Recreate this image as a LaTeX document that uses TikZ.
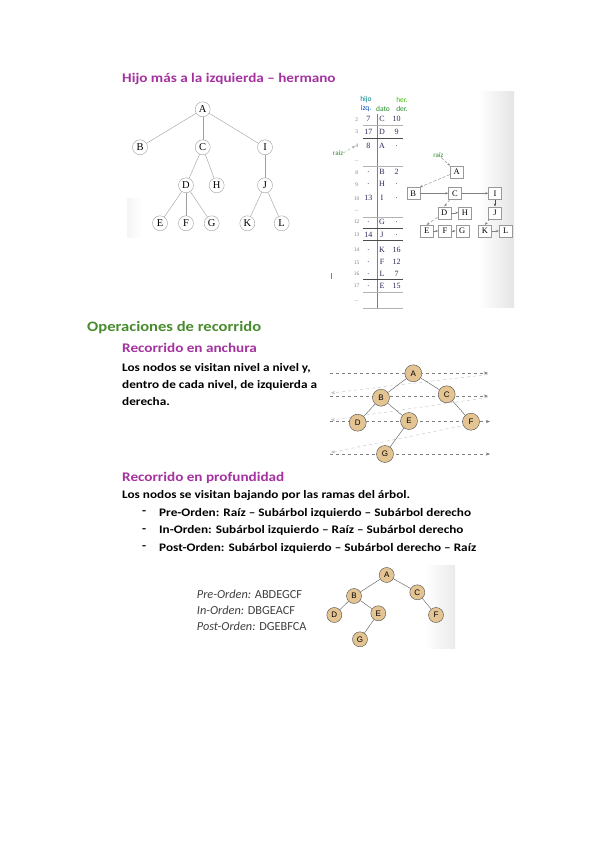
\documentclass[tikz,border=0pt]{standalone}
\usepackage{fontspec}
\setmainfont{Carlito}[FakeStretch=1.15]
\newfontfamily\calfont{Carlito}
\newfontfamily\treefont{Liberation Serif}
\newfontfamily\nodefont{Liberation Sans}
\usetikzlibrary{arrows.meta}

\definecolor{titpurple}{RGB}{165,50,160}
\definecolor{titgreen}{RGB}{72,140,46}
\definecolor{raizgreen}{RGB}{40,140,40}
\definecolor{nodetan}{RGB}{228,196,146}
\definecolor{tabblue}{RGB}{40,40,90}

\tikzset{
  circnode/.style={circle, draw=gray!75, minimum size=15pt, inner sep=0pt, font=\treefont\fontsize{10.5}{10.5}\selectfont},
  boxnode/.style={rectangle, draw=gray!80, fill=white, minimum width=13pt, minimum height=12pt, inner sep=0pt, font=\treefont\fontsize{8.5}{8.5}\selectfont},
  tannode/.style={circle, draw=black!70, fill=nodetan, minimum size=17pt, inner sep=0pt, font=\nodefont\fontsize{8}{8}\selectfont},
  tannodesm/.style={tannode, minimum size=15pt},
  head/.style={anchor=west, inner sep=0pt, text=titpurple, font=\bfseries\fontsize{13.2}{13.2}\selectfont},
  body/.style={anchor=west, inner sep=0pt, font=\bfseries\fontsize{11.5}{11.5}\selectfont},
  order/.style={anchor=west, inner sep=0pt, text=black!75, font=\calfont\fontsize{12.3}{12.3}\selectfont},
  cell/.style={inner sep=0pt, text=tabblue, font=\treefont\fontsize{8}{8}\selectfont},
  idx/.style={inner sep=0pt, text=gray, font=\treefont\fontsize{5.5}{5.5}\selectfont},
  colhead/.style={inner sep=0pt, text=raizgreen, font=\calfont\fontsize{7.5}{7.5}\selectfont},
  sib/.style={gray, -{Stealth[length=3pt]}},
  kid/.style={gray, densely dashed, -{Stealth[length=3pt]}},
  levelline/.style={gray, dashed, -{Stealth[length=4pt]}},
  backline/.style={gray!50, dashed, -{Stealth[length=4pt]}}
}

\begin{document}
\begin{tikzpicture}[x=1pt, y=-1pt]
  \useasboundingbox[fill=white] (0,0) rectangle (599,848);

  % title
  \node[head] (tHijo) at (122,79) {Hijo más a la izquierda – hermano};

  % general tree
  \shade[left color=black!4, right color=white] (127,198) rectangle (142,237);
  \node[circnode] (gA) at (202.7,109.3) {A};
  \node[circnode] (gB) at (140,147.3) {B};
  \node[circnode] (gC) at (202.7,147.3) {C};
  \node[circnode] (gI) at (265,147.3) {I};
  \node[circnode] (gD) at (186,185.3) {D};
  \node[circnode] (gH) at (216.7,185.3) {H};
  \node[circnode] (gJ) at (265,185.3) {J};
  \node[circnode] (gE) at (160,223.3) {E};
  \node[circnode] (gF) at (186,223.3) {F};
  \node[circnode] (gG) at (211.7,223.3) {G};
  \node[circnode] (gK) at (247.3,223.3) {K};
  \node[circnode] (gL) at (281.7,223.3) {L};
  \foreach \p/\c in {A/B, A/C, A/I, C/D, C/H, I/J, D/E, D/F, D/G, J/K, J/L}
    \draw[gray!75] (g\p) -- (g\c);

  % table (array of records)
  \shade[left color=white, right color=black!10] (478,92) rectangle (514,307);
  \node[colhead, text=teal] (hHijo) at (366,100) {hijo};
  \node[colhead, text=teal!60!blue] (hIzq) at (366,109) {izq.};
  \node[colhead] (hDato) at (383,109) {dato};
  \node[colhead, text=green!50!olive] (hHer) at (402,100) {her.};
  \node[colhead] (hDer) at (402,109) {der.};
  \draw[gray] (376.7,114) -- (376.7,308);
  \foreach \y/\n/\h/\d/\s in {119.3/2/7/C/10, 131.7/3/17/D/9, 146/4/8/A/., 172.3/8/./B/2,
      184.3/9/./H/., 198.3/10/13/I/., 221.7/12/./G/., 235/13/14/J/., 250/14/./K/16,
      262.3/15/./F/12, 274/16/./L/7, 286/17/./E/15} {
    \node[idx] (i\n) at (356.7,\y) {\n};
    \node[cell] (h\n) at (368.3,\y) {\h};
    \node[cell] (d\n) at (382,\y) {\d};
    \node[cell] (s\n) at (396.7,\y) {\s};
  }
  \foreach \y [count=\k] in {161,211.7,301}
    \node[idx] (dots\k) at (356.7,\y) {...};
  \foreach \y in {125.7,166,216.7,291.7,307.7}
    \draw[gray!60] (363,\y) -- (403,\y);
  \foreach \y in {138.3,228.3,240,279.3}
    \draw[black!70, thick] (363,\y) -- (403,\y);
  \draw[gray] (331.5,273) -- (331.5,279);
  \node[colhead, font=\calfont\fontsize{7}{7}\selectfont] (raizT) at (338,153) {raíz};
  \draw[kid, gray!70] (raizT.east) -- (i4.west);

  % first-child / next-sibling tree
  \node[colhead, font=\calfont\fontsize{7}{7}\selectfont] (raizL) at (438.3,155) {raíz};
  \node[boxnode] (lA) at (456.7,171.7) {A};
  \node[boxnode] (lB) at (413.3,193.3) {B};
  \node[boxnode] (lC) at (455,193.3) {C};
  \node[boxnode] (lI) at (495,193.3) {I};
  \node[boxnode] (lD) at (444.3,212.7) {D};
  \node[boxnode] (lH) at (465,212.7) {H};
  \node[boxnode] (lJ) at (495,212.7) {J};
  \node[boxnode] (lE) at (426.7,231) {E};
  \node[boxnode] (lF) at (445,231) {F};
  \node[boxnode] (lG) at (462.3,231) {G};
  \node[boxnode] (lK) at (485,231) {K};
  \node[boxnode] (lL) at (505.7,231) {L};
  \draw[kid] (raizL) -- (lA);
  \draw[kid] (lA) -- (lB.north east);
  \draw[kid] (lC) -- (lD.north);
  \draw[kid] (lD) -- (lE.north);
  \draw[kid] (lJ) -- (lK.north);
  \draw[black!70, -{Stealth[length=3pt]}] (lI) -- (lJ);
  \foreach \a/\b in {B/C, C/I, D/H, E/F, F/G, K/L}
    \draw[sib] (l\a) -- (l\b);

  % traversals
  \node[anchor=west, inner sep=0pt, text=titgreen, font=\bfseries\fontsize{14.4}{14.4}\selectfont] (tOper) at (87,327.5) {Operaciones de recorrido};
  \node[head] (tAnch) at (122,348) {Recorrido en anchura};
  \node[body] (bAnch1) at (122,368) {Los nodos se visitan nivel a nivel y,};
  \node[body] (bAnch2) at (122,385) {dentro de cada nivel, de izquierda a};
  \node[body] (bAnch3) at (122,402) {derecha.};

  % breadth-first picture
  \coordinate (l1s) at (330,373);  \coordinate (l1e) at (488,373);
  \coordinate (l2s) at (330,396);  \coordinate (l2e) at (488,396);
  \coordinate (l3s) at (330,421.5); \coordinate (l3e) at (490,421.5);
  \coordinate (l4s) at (330,454);  \coordinate (l4e) at (490,454);
  \draw[levelline] (l1s) -- (l1e);
  \draw[levelline] (l2s) -- (l2e);
  \draw[levelline] (l3s) -- (l3e);
  \draw[levelline] (l4s) -- (l4e);
  \draw[backline] (488,374.5) -- (331,393);
  \draw[backline] (488,397.5) -- (331,420);
  \draw[backline] (466,425) -- (331,452.5);
  \node[tannode] (aA) at (413.3,373.3) {A};
  \node[tannode] (aB) at (381,397.7) {B};
  \node[tannode] (aC) at (446.7,394.3) {C};
  \node[tannode] (aD) at (357.7,422.7) {D};
  \node[tannode] (aE) at (409,421) {E};
  \node[tannode] (aF) at (471,421.7) {F};
  \node[tannode] (aG) at (385,454) {G};
  \foreach \p/\c in {A/B, A/C, B/D, B/E, C/F, E/G}
    \draw[black!65] (a\p) -- (a\c);

  % depth-first
  \node[head] (tProf) at (122,478) {Recorrido en profundidad};
  \node[body] (bProf) at (122,495) {Los nodos se visitan bajando por las ramas del árbol.};
  \foreach \y/\t [count=\k] in {513/{Pre-Orden: Raíz – Subárbol izquierdo – Subárbol derecho},
      530.5/{In-Orden: Subárbol izquierdo – Raíz – Subárbol derecho},
      548/{Post-Orden: Subárbol izquierdo – Subárbol derecho – Raíz}} {
    \node[body] (dash\k) at (142,\y) {-};
    \node[body] (item\k) at (159,\y) {\t};
  }

  % depth-first picture
  \shade[left color=white, right color=black!8] (425,565) rectangle (455,648);
  \node[order] (oPre) at (196.7,594.3) {\textit{Pre-Orden:} ABDEGCF};
  \node[order] (oIn) at (196.7,610.7) {\textit{In-Orden:} DBGEACF};
  \node[order] (oPost) at (196.7,626.7) {\textit{Post-Orden:} DGEBFCA};
  \node[tannodesm] (pA) at (386.7,575) {A};
  \node[tannodesm] (pB) at (354,596) {B};
  \node[tannodesm] (pC) at (417.3,592.3) {C};
  \node[tannodesm] (pD) at (334.3,615) {D};
  \node[tannodesm] (pE) at (378.3,613.3) {E};
  \node[tannodesm] (pF) at (436,615) {F};
  \node[tannodesm] (pG) at (360,639.3) {G};
  \foreach \p/\c in {A/B, A/C, B/D, B/E, C/F, E/G}
    \draw[black!65] (p\p) -- (p\c);
\end{tikzpicture}
\end{document}
